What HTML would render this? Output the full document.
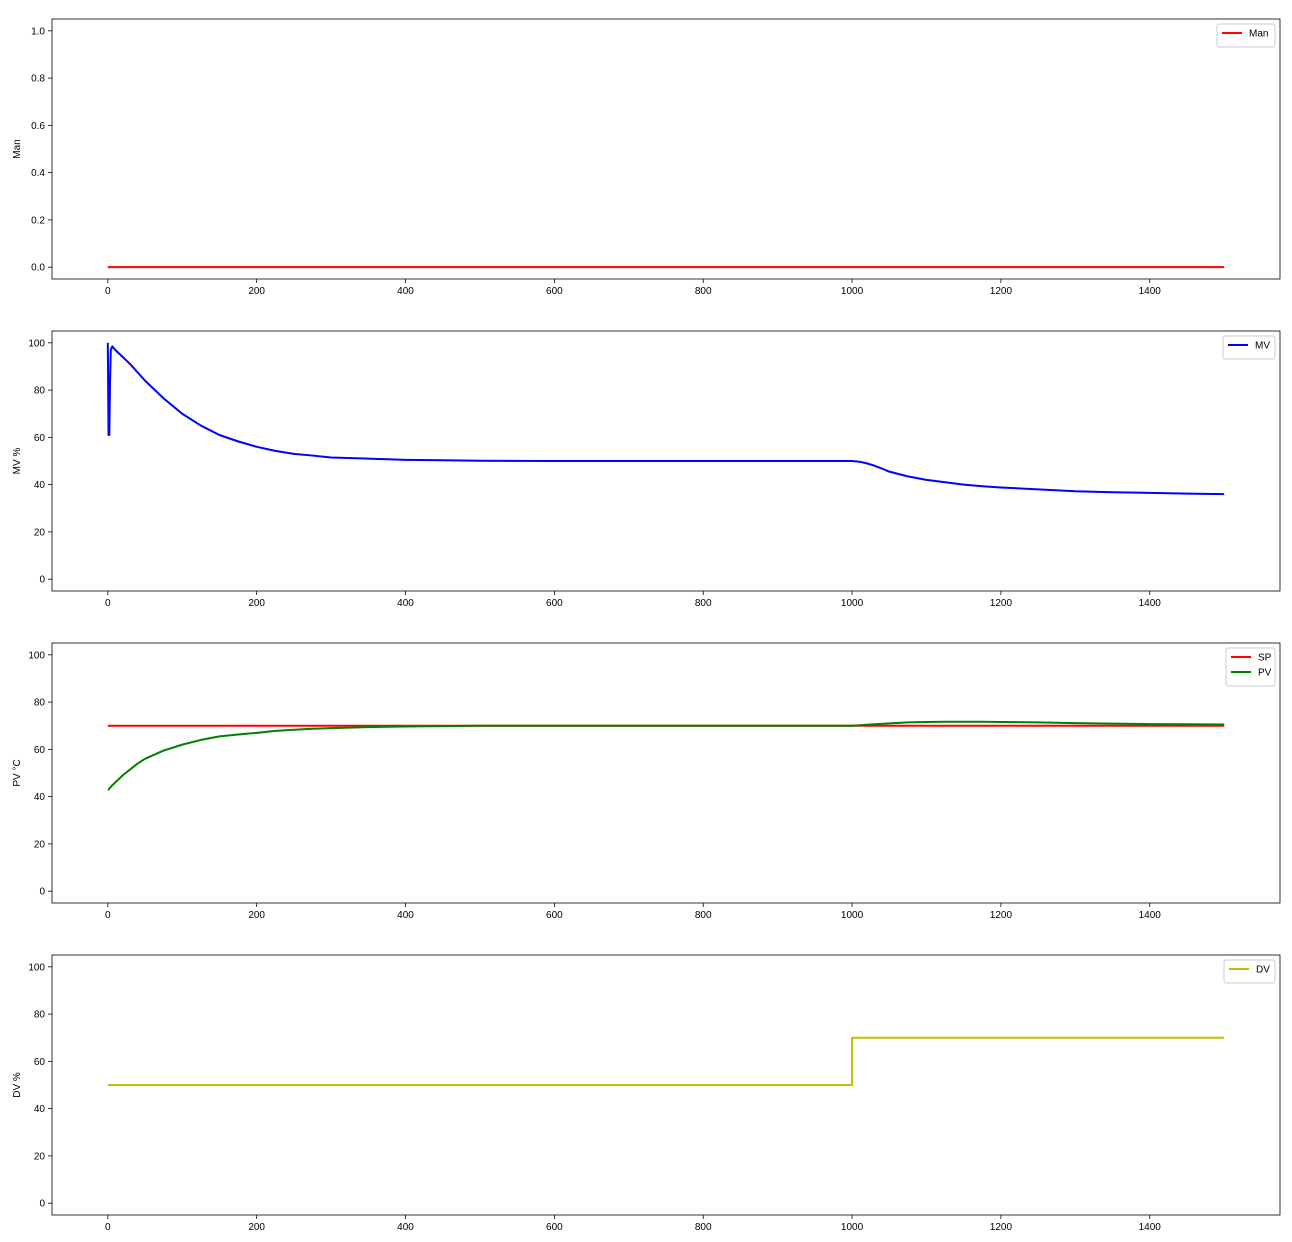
<!DOCTYPE html>
<html><head><meta charset="utf-8"><style>
body{margin:0;background:#fff;}
svg{display:block;font-family:"Liberation Sans","DejaVu Sans",sans-serif;}
</style></head><body>
<svg id="fig" width="1292" height="1242" viewBox="0 0 1292 1242" xmlns="http://www.w3.org/2000/svg"></svg>
<script>
// ---- data ----
const xTicks = [0,200,400,600,800,1000,1200,1400];
const manTicks = [0.0,0.2,0.4,0.6,0.8,1.0];
const pctTicks = [0,20,40,60,80,100];
const manT = [0,1500];
const manV = [0,0];
const mvT = [0,1,2,3,4,6,10,20,30,40,50,60,75,100,125,150,175,200,225,250,275,300,350,400,450,500,600,1000,1010,1020,1030,1040,1050,1075,1100,1125,1150,1175,1200,1250,1300,1350,1400,1450,1500];
const mvV = [100,61,61,84,97,98.5,97,94,91,87.5,84,81,76.5,70,65,61,58.3,56,54.3,53,52.3,51.5,51,50.5,50.3,50.1,50,50,49.7,49,48,46.8,45.5,43.5,42,41,40,39.3,38.8,38,37.2,36.8,36.5,36.2,36];
const spT = [0,1500];
const spV = [70,70];
const pvT = [0,1,5,10,20,30,40,50,75,100,125,150,175,200,225,250,275,300,350,400,500,1000,1025,1050,1075,1100,1125,1150,1175,1200,1250,1300,1350,1400,1450,1500];
const pvV = [43,43,44.5,46,49,51.5,54,56,59.5,62,64,65.5,66.3,67,67.8,68.3,68.7,69,69.4,69.7,70,70,70.5,71,71.4,71.6,71.7,71.7,71.7,71.6,71.4,71.1,70.9,70.7,70.6,70.5];
const dvT = [0,1000,1000,1500];
const dvV = [50,50,70,70];

const NS="http://www.w3.org/2000/svg";
const svg=document.getElementById('fig');
function mk(tag,attrs,parent){const e=document.createElementNS(NS,tag);for(const k in attrs)e.setAttribute(k,attrs[k]);(parent||svg).appendChild(e);return e;}
const L=52,R=1280,X0=-75,X1=1575;
const xs=v=>L+(v-X0)/(X1-X0)*(R-L);

function panel(top,ymin,ymax,yticks,fmt,ylabel,series,legendW,name){
  const bot=top+260;
  const ys=v=>bot-(v-ymin)/(ymax-ymin)*260;
  const g=mk('g',{});
  
  
  for(const t of xTicks){
    const x=xs(t);
    mk('line',{x1:x,x2:x,y1:bot,y2:bot+4,stroke:'#000','stroke-width':0.8},g);
    const tx=mk('text',{x:x,y:bot+15,'font-size':10,'text-anchor':'middle',fill:'#000'},g);
    tx.textContent=t;
    
    
  }
  for(const t of yticks){
    const y=ys(t);
    mk('line',{x1:L-4,x2:L,y1:y,y2:y,stroke:'#000','stroke-width':0.8},g);
    const tx=mk('text',{x:L-7,y:y+3.5,'font-size':10,'text-anchor':'end',fill:'#000'},g);
    tx.textContent=fmt(t);
    
    
  }
  const yl=mk('text',{x:0,y:0,'font-size':10,'text-anchor':'middle',transform:`translate(20,${top+130}) rotate(-90)`},g);
  yl.textContent=ylabel;
  
  
  for(const s of series){
    const d=s.t.map((t,i)=>(i?'L':'M')+xs(t).toFixed(2)+','+ys(s.v[i]).toFixed(2)).join(' ');
    const p=mk('path',{d:d,fill:'none',stroke:s.c,'stroke-width':2,'stroke-linejoin':'round'},g);
    
    
  }
  mk('rect',{x:L,y:top,width:R-L,height:260,fill:'none',stroke:'#000','stroke-width':0.8},g);
  const lh=8+series.length*15;
  const lx=R-5-legendW, ly=top+5;
  const lg=mk('g',{},g);
  
  
  mk('rect',{x:lx,y:ly,width:legendW,height:lh,rx:2,fill:'#fff',stroke:'#ccc','stroke-width':1},lg);
  series.forEach((s,i)=>{
    const yy=ly+9+i*15;
    mk('line',{x1:lx+5,x2:lx+25,y1:yy,y2:yy,stroke:s.c,'stroke-width':2},lg);
    const tx=mk('text',{x:lx+32,y:yy+3.5,'font-size':10},lg);
    tx.textContent=s.n;
    
    
  });
}
panel(19,-0.05,1.05,manTicks,v=>v.toFixed(1),'Man',[{t:manT,v:manV,c:'#ff0000',n:'Man'}],58,'man-panel');
panel(331,-5,105,pctTicks,v=>v,'MV %',[{t:mvT,v:mvV,c:'#0000ff',n:'MV'}],52,'mv-panel');
panel(643,-5,105,pctTicks,v=>v,'PV °C',[{t:spT,v:spV,c:'#ff0000',n:'SP'},{t:pvT,v:pvV,c:'#008000',n:'PV'}],49,'pv-panel');
panel(955,-5,105,pctTicks,v=>v,'DV %',[{t:dvT,v:dvV,c:'#bfbf00',n:'DV'}],51,'dv-panel');
</script>
</body></html>
